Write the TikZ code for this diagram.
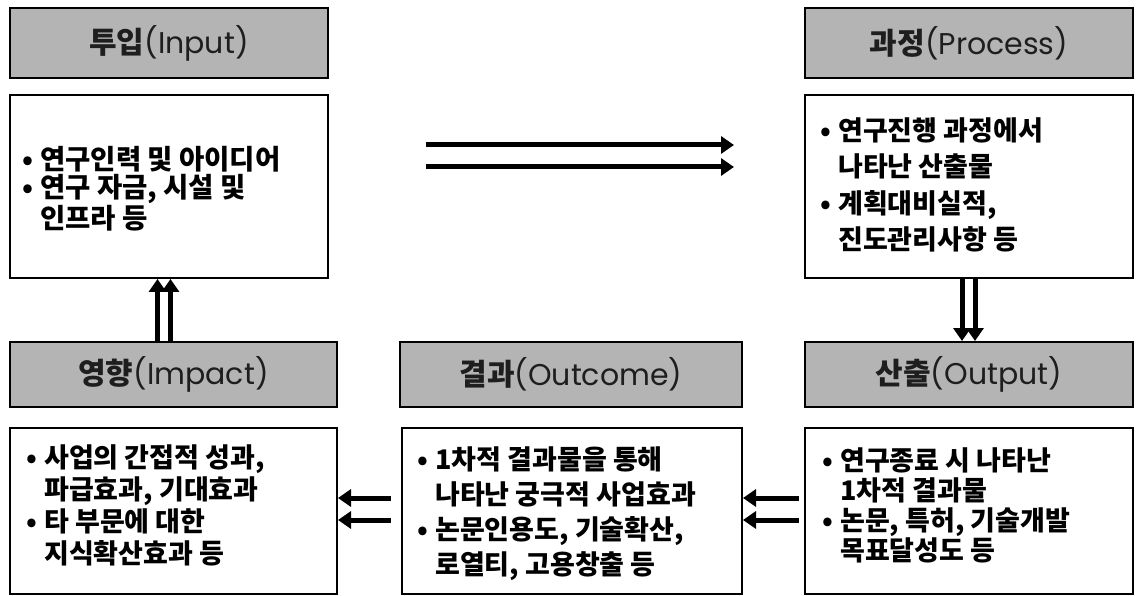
\documentclass[tikz,border=0pt]{standalone}
\usepackage{fontspec}
\newfontfamily\kr{Noto Sans CJK KR}
\newfontfamily\pop{Poppins}
\usetikzlibrary{arrows.meta}
\definecolor{hdrgray}{HTML}{B4B4B4}
\definecolor{hdrtext}{HTML}{1E1E1E}
\newcommand{\bu}{\makebox[0pt][c]{•}\hspace*{12pt}}
\newcommand{\ind}{\hspace*{12pt}}
\begin{document}
\begin{tikzpicture}[x=1pt,y=-1pt,
  hdr/.style={draw=black, line width=2pt, fill=hdrgray, inner sep=0pt, text=hdrtext,
    font=\fontsize{30}{32}\selectfont},
  body/.style={draw=black, line width=2pt, fill=white, inner sep=0pt},
  txt/.style={anchor=north west, inner sep=0pt, align=left},
  arr/.style={line width=5pt, -{Triangle[length=13pt,width=17pt]}}]
\useasboundingbox[fill=white] (0,0) rectangle (1136,596);
% headers
\node[hdr, minimum width=318pt, minimum height=70pt] (hin) at (169,43) {{\kr\bfseries 투입}{\pop (Input)}};
\node[hdr, minimum width=328pt, minimum height=70pt] (hpr) at (969,43) {{\kr\bfseries 과정}{\pop (Process)}};
\node[hdr, minimum width=327pt, minimum height=65pt] (him) at (173.5,374.5) {{\kr\bfseries 영향}{\pop (Impact)}};
\node[hdr, minimum width=342pt, minimum height=65pt] (hoc) at (571,374.5) {{\kr\bfseries 결과}{\pop (Outcome)}};
\node[hdr, minimum width=328pt, minimum height=65pt] (hop) at (969,374.5) {{\kr\bfseries 산출}{\pop (Output)}};
% body boxes
\node[body, minimum width=318pt, minimum height=183pt] (bin) at (169,186.5) {};
\node[body, minimum width=328pt, minimum height=183pt] (bpr) at (969,186.5) {};
\node[body, minimum width=327pt, minimum height=166pt] (bim) at (173.5,511) {};
\node[body, minimum width=340pt, minimum height=166pt] (boc) at (572,511) {};
\node[body, minimum width=328pt, minimum height=166pt] (bop) at (969,511) {};
% texts
\node[txt, font=\kr\bfseries\fontsize{27.5}{28.5}\selectfont] (tin) at (28,146) {\bu 연구인력 및 아이디어\\\bu 연구 자금, 시설 및\\\ind 인프라 등};
\node[txt, font=\kr\bfseries\fontsize{27}{36.5}\selectfont] (tpr) at (826,117) {\bu 연구진행 과정에서\\\ind 나타난 산출물\\\bu 계획대비실적,\\\ind 진도관리사항 등};
\node[txt, font=\kr\bfseries\fontsize{27}{32}\selectfont] (tim) at (32,444) {\bu 사업의 간접적 성과,\\\ind 파급효과, 기대효과\\\bu 타 부문에 대한\\\ind 지식확산효과 등};
\node[txt, font=\kr\bfseries\fontsize{27}{35}\selectfont] (toc) at (423,447) {\bu 1차적 결과물을 통해\\\ind 나타난 궁극적 사업효과\\\bu 논문인용도, 기술확산,\\\ind 로열티, 고용창출 등};
\node[txt, font=\kr\bfseries\fontsize{27}{30}\selectfont] (top) at (828,447) {\bu 연구종료 시 나타난\\\ind 1차적 결과물\\\bu 논문, 특허, 기술개발\\\ind 목표달성도 등};
% arrows: input -> process
\draw[arr, shorten <=97pt, shorten >=70pt] ([yshift=41.5pt]bin.east) -- ([yshift=41.5pt]bin.east -| bpr.west);
\draw[arr, shorten <=97pt, shorten >=70pt] ([yshift=19.5pt]bin.east) -- ([yshift=19.5pt]bin.east -| bpr.west);
% process -> output
\draw[arr] ([xshift=-7pt]bpr.south) -- ([xshift=-7pt]bpr.south |- hop.north);
\draw[arr] ([xshift=6pt]bpr.south) -- ([xshift=6pt]bpr.south |- hop.north);
% output -> outcome
\draw[arr, shorten <=5pt] ([yshift=13pt]bop.west) -- ([yshift=13pt]bop.west -| boc.east);
\draw[arr, shorten <=5pt] ([yshift=-9pt]bop.west) -- ([yshift=-9pt]bop.west -| boc.east);
% outcome -> impact
\draw[arr, shorten <=10pt] ([yshift=13pt]boc.west) -- ([yshift=13pt]boc.west -| bim.east);
\draw[arr, shorten <=10pt] ([yshift=-9pt]boc.west) -- ([yshift=-9pt]boc.west -| bim.east);
% impact -> input
\draw[arr] ([xshift=-16pt]him.north) -- ([xshift=-16pt]him.north |- bin.south);
\draw[arr] ([xshift=-3pt]him.north) -- ([xshift=-3pt]him.north |- bin.south);
\end{tikzpicture}
\end{document}
